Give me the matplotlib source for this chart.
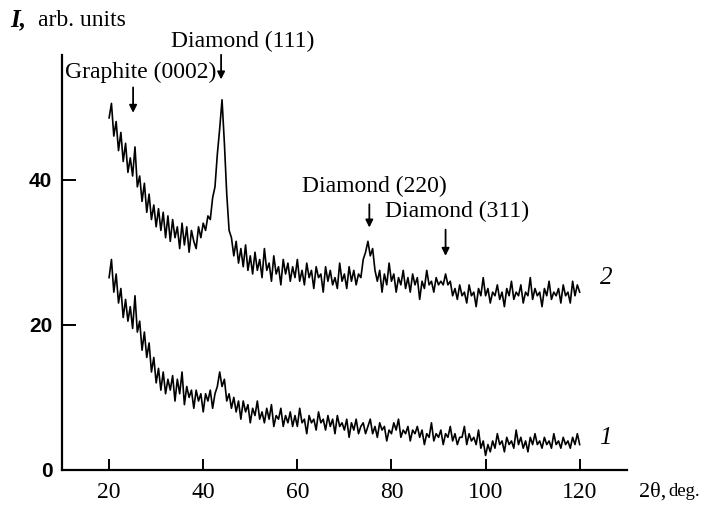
import numpy as np
import matplotlib
matplotlib.use("Agg")
import matplotlib.pyplot as plt

# intensity, 0.5 deg step from 20 to 120 deg
curve2 = [
    48.5, 50.5, 46.0, 48.0, 44.0, 46.5, 42.5, 45.0, 41.0, 43.0,
    40.5, 44.5, 39.0, 40.5, 37.0, 39.5, 35.5, 38.0, 34.5, 36.5,
    33.5, 36.0, 33.0, 35.5, 32.0, 35.0, 31.5, 34.5, 32.0, 33.5,
    30.5, 34.0, 31.0, 33.5, 30.0, 33.0, 31.5, 30.5, 33.5, 32.0,
    34.0, 33.0, 35.0, 34.5, 37.5, 39.0, 43.5, 47.0, 51.0, 45.0,
    38.0, 33.0, 32.0, 29.5, 31.5, 28.5, 30.5, 28.0, 31.0, 27.5,
    29.5, 27.0, 30.0, 27.5, 29.0, 26.5, 30.5, 27.5, 28.5, 26.0,
    29.5, 27.0, 28.0, 25.5, 29.0, 27.0, 28.5, 26.0, 28.0, 26.5,
    29.0, 26.0, 27.5, 25.5, 28.5, 26.5, 27.5, 25.0, 28.0, 26.5,
    27.0, 24.5, 28.0, 26.0, 27.5, 25.5, 26.5, 25.0, 28.5, 26.0,
    27.0, 25.0, 28.0, 26.0, 27.5, 25.5, 27.0, 26.5, 29.0, 30.0,
    31.5, 29.5, 30.5, 27.5, 26.0, 27.5, 24.5, 27.0, 25.5, 28.5,
    26.0, 27.0, 24.5, 26.5, 25.5, 27.5, 25.0, 26.5, 24.5, 27.0,
    25.5, 26.5, 23.5, 26.0, 25.0, 27.5, 25.5, 26.0, 24.5, 26.5,
    25.5, 26.0, 25.5, 27.0, 25.5, 26.0, 24.0, 25.0, 23.5, 25.5,
    24.0, 24.5, 23.0, 25.5, 24.0, 24.5, 22.5, 25.0, 24.0, 26.5,
    24.0, 25.0, 23.0, 24.5, 24.0, 25.5, 23.5, 24.5, 22.5, 25.0,
    24.0, 26.0, 23.5, 24.5, 24.0, 25.5, 23.0, 24.5, 24.0, 26.5,
    23.5, 25.0, 24.0, 24.5, 22.5, 25.0, 24.0, 26.0, 23.5, 24.5,
    24.0, 25.0, 23.0, 25.5, 24.0, 24.5, 23.0, 26.0, 24.0, 25.5,
    24.5,
]

curve1 = [
    26.5, 29.0, 24.5, 27.0, 23.0, 25.0, 21.0, 23.5, 20.5, 22.5,
    19.5, 24.0, 19.0, 20.5, 16.5, 19.0, 15.5, 17.5, 13.5, 15.5,
    12.0, 14.0, 11.0, 13.5, 10.5, 12.5, 11.0, 13.0, 9.5, 12.5,
    10.5, 13.5, 9.0, 11.5, 10.0, 11.0, 8.5, 11.0, 9.5, 10.5,
    8.0, 10.5, 9.5, 11.0, 8.5, 10.5, 11.5, 13.5, 11.5, 12.5,
    9.5, 10.5, 8.5, 10.0, 8.0, 9.5, 7.0, 9.5, 8.0, 9.0,
    6.5, 8.5, 7.5, 9.5, 7.0, 8.0, 6.5, 8.5, 7.0, 9.0,
    6.0, 7.5, 7.0, 8.5, 6.0, 7.5, 6.5, 8.0, 6.0, 7.5,
    6.0, 8.5, 6.5, 7.0, 5.0, 7.5, 6.5, 7.0, 5.5, 8.0,
    6.5, 7.0, 5.5, 7.5, 6.0, 7.0, 5.0, 7.5, 6.0, 6.5,
    5.5, 7.0, 4.5, 6.5, 5.5, 7.0, 5.0, 6.0, 6.5, 5.0,
    6.0, 7.0, 5.0, 6.0, 4.5, 6.5, 5.5, 6.0, 4.0, 5.5,
    5.0, 6.5, 5.5, 7.0, 4.5, 5.5, 5.0, 6.0, 4.0, 5.5,
    5.0, 6.0, 4.5, 5.5, 3.5, 5.0, 4.5, 6.5, 4.0, 5.0,
    4.5, 5.5, 3.5, 5.0, 4.5, 6.0, 4.0, 5.0, 3.5, 4.5,
    4.5, 6.0, 3.5, 5.0, 4.0, 4.5, 3.5, 5.5, 3.0, 4.0,
    2.0, 3.5, 2.5, 4.0, 3.0, 5.0, 3.5, 4.0, 2.5, 4.5,
    3.5, 4.0, 3.0, 5.5, 3.5, 4.5, 3.0, 4.0, 2.5, 4.5,
    3.5, 5.0, 3.5, 4.0, 3.0, 4.5, 3.5, 4.0, 3.0, 5.0,
    3.5, 4.0, 3.0, 4.5, 3.5, 4.0, 3.0, 4.5, 3.5, 5.0,
    3.5,
]

scan_start = 20
scan_end = 120

peak_labels = ["Graphite (0002)", "Diamond (111)", "Diamond (220)", "Diamond (311)"]
peak_pos = [25.1, 43.8, 75.3, 91.5]
arrow_top = [52.7, 57.2, 36.6, 33.1]
arrow_tip = [49.2, 53.8, 33.4, 29.5]
label_x = [26.8, 48.4, 76.4, 93.9]
label_y = [54.8, 59.0, 39.0, 35.6]

serif = "Liberation Serif"

x2 = np.linspace(scan_start, scan_end, len(curve2))
x1 = np.linspace(scan_start, scan_end, len(curve1))

fig = plt.figure(figsize=(7.05, 5.07), dpi=100)
ax = fig.add_axes([0.088, 0.073, 0.801, 0.819])

ax.plot(x2, curve2, color="black", linewidth=1.2)
ax.plot(x1, curve1, color="black", linewidth=1.2)

ax.set_xlim(10, 130)
ax.set_ylim(0, 57.2)

for sp in ["top", "right"]:
    ax.spines[sp].set_visible(False)
for sp in ["left", "bottom"]:
    ax.spines[sp].set_linewidth(1.6)

ax.set_xticks([20, 40, 60, 80, 100, 120])
ax.set_yticks([0, 20, 40])
ax.tick_params(axis="x", direction="in", length=8, width=1.4, pad=9)
ax.tick_params(axis="y", direction="in", length=10, width=1.4, pad=7)
for lab in ax.get_xticklabels():
    lab.set_fontfamily(serif)
    lab.set_fontsize(17)
for lab in ax.get_yticklabels():
    lab.set_fontfamily("Liberation Sans")
    lab.set_fontweight("bold")
    lab.set_fontsize(15)

for name, px, yt, yb, lx, ly in zip(peak_labels, peak_pos, arrow_top, arrow_tip, label_x, label_y):
    ax.annotate("", xy=(px, yb), xytext=(px, yt),
                arrowprops=dict(arrowstyle="-|>", color="black", lw=1.3,
                                mutation_scale=11, shrinkA=0, shrinkB=0),
                annotation_clip=False)
    ax.text(lx, ly, name, fontsize=17, fontfamily=serif, ha="center", va="center",
            clip_on=False)

ax.text(125.7, 26.5, "2", fontsize=18, fontfamily=serif, style="italic",
        ha="center", va="center")
ax.text(125.5, 4.4, "1", fontsize=18, fontfamily=serif, style="italic",
        ha="center", va="center")

fig.text(0.014, 0.96, "I,", fontsize=18, fontfamily=serif, style="italic",
         fontweight="bold", va="center", ha="left")
fig.text(0.054, 0.96, "arb. units", fontsize=17, fontfamily=serif,
         va="center", ha="left")

fig.text(0.906, 0.03, "2θ,", fontsize=16, fontfamily=serif,
         va="center", ha="left")
fig.text(0.948, 0.03, "deg.", fontsize=13.5, fontfamily=serif,
         va="center", ha="left")

fig.savefig("out.png", dpi=100)
